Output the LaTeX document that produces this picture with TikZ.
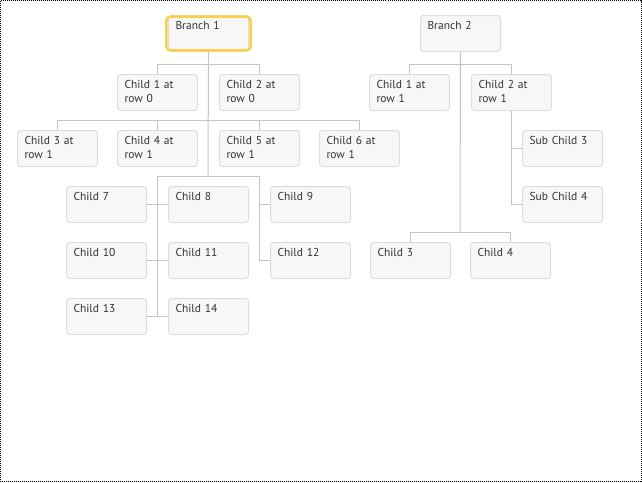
\documentclass[tikz,border=0pt]{standalone}
\usepackage{fontspec}
\setmainfont{PT Sans}
\usetikzlibrary{calc}
\definecolor{boxfill}{HTML}{F7F7F7}
\definecolor{boxline}{HTML}{DDDDDD}
\definecolor{connc}{HTML}{C4C4C4}
\definecolor{txtc}{HTML}{333333}
\definecolor{hlc}{HTML}{F9D04A}
\tikzset{
  box/.style={draw=boxline, fill=boxfill, line width=1pt, rounded corners=3pt,
    anchor=north west, inner xsep=7pt, inner ysep=0pt, text width=66pt,
    align=left, text height=14pt, text depth=22pt, text=txtc,
    font=\fontsize{11.5}{14}\selectfont},
  conn/.style={draw=connc, line width=1pt},
  hl/.style={draw=hlc, line width=2.4pt, rounded corners=4pt}
}
\begin{document}
\begin{tikzpicture}[x=1pt,y=-1pt]
\useasboundingbox (0,0) rectangle (642,482);
\draw[line width=1pt, dash pattern=on 1pt off 1pt] (0.5,0.5) rectangle (641.5,481.5);
% Branch 1
\node[box] (b1) at (168,15) {Branch 1};
\draw[hl] ($(b1.north west)+(-1.6,1.6)$) rectangle ($(b1.south east)+(1.6,-1.6)$);
\node[box] (c1) at (117,74) {Child 1 at\\row 0};
\node[box] (c2) at (219,74) {Child 2 at\\row 0};
\node[box] (c3) at (17,130) {Child 3 at\\row 1};
\node[box] (c4) at (117,130) {Child 4 at\\row 1};
\node[box] (c5) at (219,130) {Child 5 at\\row 1};
\node[box] (c6) at (319,130) {Child 6 at\\row 1};
\node[box] (c7) at (66,186) {Child 7};
\node[box] (c8) at (168,186) {Child 8};
\node[box] (c9) at (270,186) {Child 9};
\node[box] (c10) at (66,242) {Child 10};
\node[box] (c11) at (168,242) {Child 11};
\node[box] (c12) at (270,242) {Child 12};
\node[box] (c13) at (66,298) {Child 13};
\node[box] (c14) at (168,298) {Child 14};
% Branch 2
\node[box] (b2) at (420,15) {Branch 2};
\node[box] (d1) at (369,74) {Child 1 at\\row 1};
\node[box] (d2) at (471,74) {Child 2 at\\row 1};
\node[box] (s3) at (522,130) {Sub Child 3};
\node[box] (s4) at (522,186) {Sub Child 4};
\node[box] (d3) at (370,242) {Child 3};
\node[box] (d4) at (470,242) {Child 4};
% junctions
\coordinate (j0) at (208,64);
\coordinate (j1) at (208,120);
\coordinate (j2) at (208,176);
\coordinate (j3) at (259,176);
\coordinate (k0) at (460,64);
\coordinate (k1) at (460,232);
% branch 1 connectors
\draw[conn] (b1.south) -- (j2);
\draw[conn] (j0) -| (c1.north);
\draw[conn] (j0) -| (c2.north);
\draw[conn] (j1) -| (c3.north);
\draw[conn] (j1) -| (c4.north);
\draw[conn] (j1) -| (c5.north);
\draw[conn] (j1) -| (c6.north);
\draw[conn] (j2) -| ($(c13.east)!0.5!(c14.west)$);
\draw[conn] (c7.east) -- (c8.west);
\draw[conn] (c10.east) -- (c11.west);
\draw[conn] (c13.east) -- (c14.west);
\draw[conn] (j2) -- (j3) |- (c12.west);
\draw[conn] (j3 |- c9.west) -- (c9.west);
% branch 2 connectors
\draw[conn] (b2.south) -- (k1);
\draw[conn] (k0) -| (d1.north);
\draw[conn] (k0) -| (d2.north);
\draw[conn] (d2.south) |- (s3.west);
\draw[conn] (d2.south) |- (s4.west);
\draw[conn] (k1) -| (d3.north);
\draw[conn] (k1) -| (d4.north);
% redraw boxes on top
\end{tikzpicture}
\end{document}
